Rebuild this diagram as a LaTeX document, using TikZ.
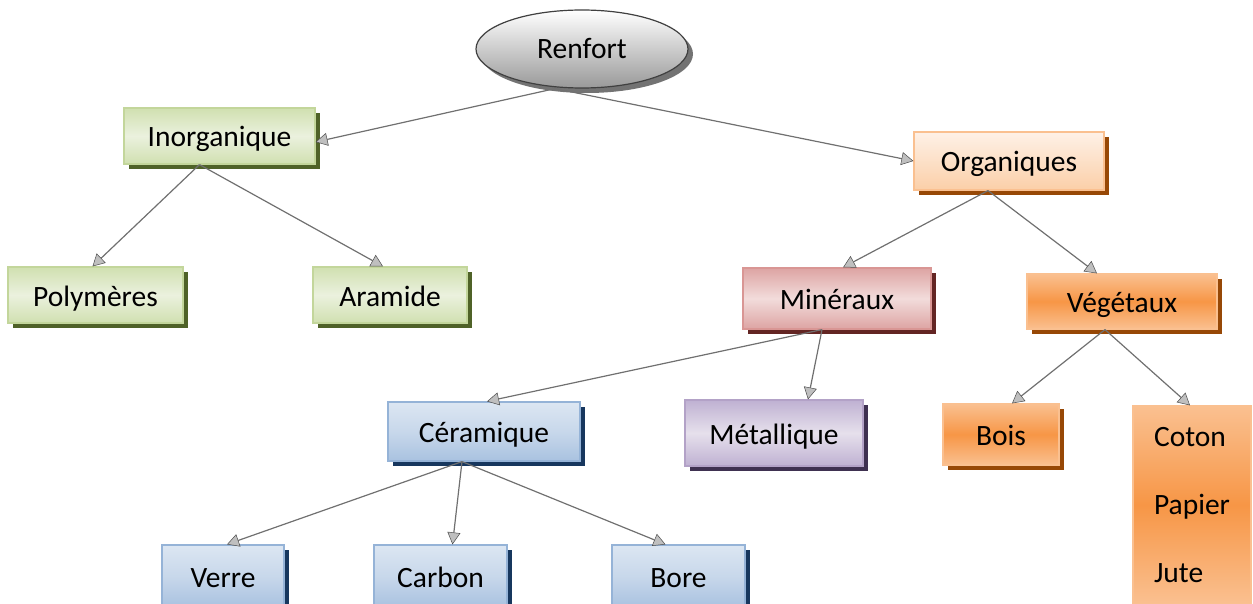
\documentclass[tikz,border=0pt]{standalone}
\usepackage{fontspec}
\setmainfont{Carlito}
\usetikzlibrary{shadows,arrows.meta,calc,shapes.geometric}
\definecolor{gfill}{HTML}{D0E0B0}
\definecolor{gfillL}{HTML}{EBF1DE}
\definecolor{gline}{HTML}{C3D69B}
\definecolor{gshad}{HTML}{4F6228}
\definecolor{rfill}{HTML}{DDA4A3}
\definecolor{rfillL}{HTML}{F2DCDB}
\definecolor{rline}{HTML}{D99694}
\definecolor{rshad}{HTML}{632523}
\definecolor{bfill}{HTML}{A9C2E0}
\definecolor{bfillL}{HTML}{DCE6F2}
\definecolor{bline}{HTML}{95B3D7}
\definecolor{bshad}{HTML}{17375E}
\definecolor{pfill}{HTML}{BFB1D2}
\definecolor{pfillL}{HTML}{E6E0EC}
\definecolor{pline}{HTML}{B3A2C7}
\definecolor{pshad}{HTML}{3F3151}
\definecolor{ofillL}{HTML}{FEF1E7}
\definecolor{ofill}{HTML}{FBCFA8}
\definecolor{oline}{HTML}{FAC090}
\definecolor{oshad}{HTML}{974806}
\definecolor{Ofill}{HTML}{F79646}
\definecolor{OfillL}{HTML}{FAC090}
\definecolor{edge}{HTML}{707070}
\tikzset{
  x=1pt, y=-1pt,
  box/.style={rectangle, font=\fontsize{29.5}{35}\selectfont, inner sep=0pt, line width=1.2pt,
    text height=24pt, text depth=2pt},
  green/.style={box, draw=gline, top color=gfill, bottom color=gfill, middle color=gfillL,
    drop shadow={fill=gshad, opacity=1, shadow xshift=5pt, shadow yshift=-5pt}},
  red/.style={box, draw=rline, top color=rfill, bottom color=rfill, middle color=rfillL,
    drop shadow={fill=rshad, opacity=1, shadow xshift=5pt, shadow yshift=-5pt}},
  blue/.style={box, draw=bline, top color=bfillL, bottom color=bfill, middle color=bfillL!60!bfill,
    drop shadow={fill=bshad, opacity=1, shadow xshift=5pt, shadow yshift=-5pt}},
  purple/.style={box, draw=pline, top color=pfill, bottom color=pfill, middle color=pfillL,
    drop shadow={fill=pshad, opacity=1, shadow xshift=5pt, shadow yshift=-5pt}},
  lorange/.style={box, draw=oline, top color=ofillL, bottom color=ofill,
    drop shadow={fill=oshad, opacity=1, shadow xshift=5pt, shadow yshift=-5pt}},
  sorange/.style={box, draw=OfillL, top color=OfillL, bottom color=OfillL, middle color=Ofill,
    drop shadow={fill=oshad, opacity=1, shadow xshift=5pt, shadow yshift=-5pt}},
  link/.style={draw=edge, line width=1.2pt,
    -{Triangle[width=13pt,length=12pt,fill=gray!50,color=gray!60!black,line width=0.5pt]}},
}
\begin{document}
\begin{tikzpicture}
\useasboundingbox (0,0) rectangle (1253,604);
% root
\node[ellipse, minimum width=212pt, minimum height=78pt, draw=black!75, line width=1.2pt,
  top color=white, bottom color=black!40, font=\fontsize{29.5}{35}\selectfont,
  text height=24pt, text depth=4pt,
  drop shadow={fill=black!55, opacity=1, shadow xshift=5pt, shadow yshift=-5pt}]
  (renfort) at (582,49) {Renfort};
% level 1
\node[green, minimum width=191pt, minimum height=56pt] (inorg) at (219.5,136) {Inorganique};
\node[lorange, minimum width=190pt, minimum height=58pt] (orga) at (1009,161) {Organiques};
% level 2
\node[green, minimum width=175pt, minimum height=56pt] (poly) at (95.5,295) {Polymères};
\node[green, minimum width=154pt, minimum height=56pt] (aram) at (390,295) {Aramide};
\node[red, minimum width=188pt, minimum height=61pt] (mine) at (837,298.5) {Minéraux};
\node[sorange, minimum width=190pt, minimum height=55pt] (veg) at (1122,301.5) {Végétaux};
% level 3
\node[blue, minimum width=192pt, minimum height=59pt] (ceram) at (484,431.5) {Céramique};
\node[purple, minimum width=178pt, minimum height=66pt] (metal) at (774,433) {Métallique};
\node[sorange, minimum width=116pt, minimum height=61pt] (bois) at (1001,434.5) {Bois};
\node[rectangle, inner sep=0pt, line width=1.2pt, draw=OfillL,
  top color=OfillL, bottom color=OfillL, middle color=Ofill,
  minimum width=118pt, minimum height=198pt,
  align=left, font=\fontsize{29.5}{68}\selectfont] (coton) at (1192,505) {Coton\\Papier\\Jute};
% level 4
\node[blue, minimum width=122pt, minimum height=62pt] (verre) at (223,576) {Verre};
\node[blue, minimum width=133pt, minimum height=62pt] (carbon) at (440.5,576) {Carbon};
\node[blue, minimum width=133pt, minimum height=62pt] (bore) at (678.5,576) {Bore};
% connectors
\draw[link] ([xshift=-27pt]renfort.south) -- ([yshift=-6pt]inorg.east);
\draw[link] ([xshift=-27pt]renfort.south) -- (orga.west);
\draw[link] ([xshift=-20pt]inorg.south) -- ([xshift=-3pt]poly.north);
\draw[link] ([xshift=-20pt]inorg.south) -- ([xshift=-7pt]aram.north);
\draw[link] ([xshift=-21pt]orga.south) -- ([xshift=6pt]mine.north);
\draw[link] ([xshift=-21pt]orga.south) -- ([xshift=-25pt]veg.north);
\draw[link] ([xshift=-15pt]mine.south) -- ([xshift=3pt]ceram.north);
\draw[link] ([xshift=-15pt]mine.south) -- ([xshift=34pt]metal.north);
\draw[link] ([xshift=-17pt]veg.south) -- ([xshift=11pt]bois.north);
\draw[link] ([xshift=-17pt]veg.south) -- ([xshift=-2pt]coton.north);
\draw[link] ([xshift=-22pt]ceram.south) -- ([xshift=4pt]verre.north);
\draw[link] ([xshift=-22pt]ceram.south) -- ([xshift=12pt]carbon.north);
\draw[link] ([xshift=-22pt]ceram.south) -- ([xshift=-13pt]bore.north);
\end{tikzpicture}
\end{document}
